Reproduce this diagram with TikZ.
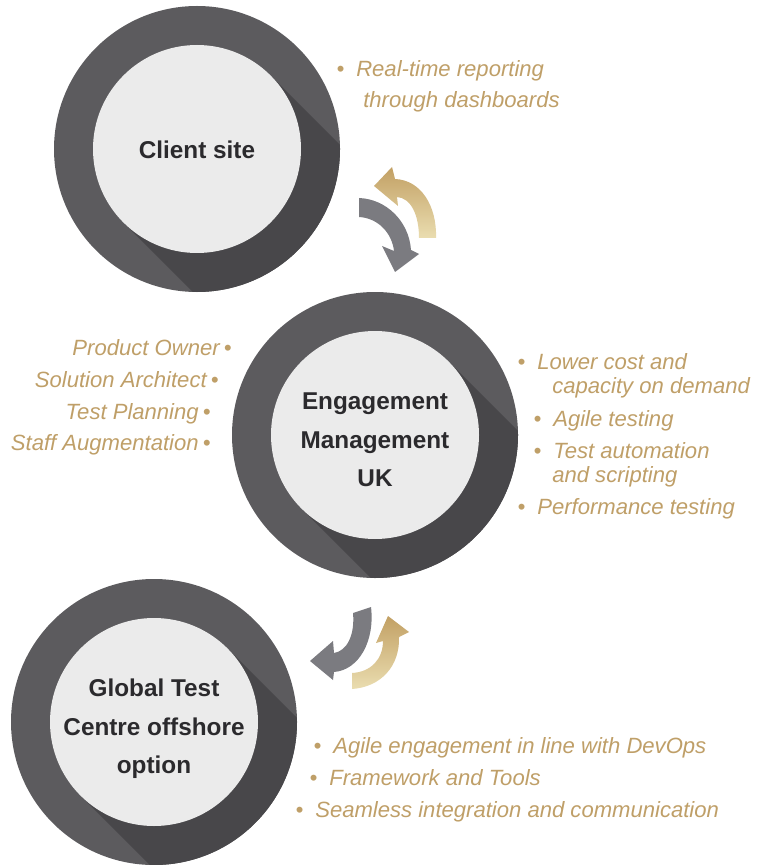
\documentclass[tikz,border=0pt]{standalone}
\usepackage{fontspec}
\setmainfont{Liberation Sans}
\usepackage{xcolor}
\usepackage{tikz}

\definecolor{ringgray}{HTML}{5C5B5E}
\definecolor{shadegray}{HTML}{48474A}
\definecolor{innergray}{HTML}{EBEBEB}
\definecolor{labeldark}{HTML}{2B2A2D}
\definecolor{goldtext}{HTML}{BF9F68}
\definecolor{arrowgray}{HTML}{7B7B80}
\definecolor{golddark}{HTML}{C2A064}
\definecolor{goldpale}{HTML}{EADDB0}

\newcommand{\lbul}{\llap{\textbullet\hspace{8.5pt}}}
\newcommand{\rbul}{\rlap{\hspace{3pt}\textbullet}}

\tikzset{
  site/.style={inner sep=0pt, align=center, text=labeldark,
    font=\bfseries\fontsize{17.3}{27.3}\selectfont},
  item/.style={anchor=base west, inner sep=0pt, text=goldtext,
    font=\itshape\fontsize{15.7}{20}\selectfont},
  itemleft/.style={item, anchor=base east}
}

\begin{document}
\begin{tikzpicture}[x=0.025cm, y=0.025cm]
			\useasboundingbox (0,0) rectangle (769,-865);
			% Rings with long shadow
			\foreach \cx/\cy in {197/149, 375/435, 154/722}{
				\fill[ringgray] (\cx,-\cy) circle (143);
				\begin{scope}
					\clip (\cx,-\cy) circle (143);
					\fill[shadegray, shift={(\cx,-\cy)}, rotate=-45] (0,-104) rectangle (320,104);
				\end{scope}
				\fill[innergray] (\cx,-\cy) circle (104);
			}
			% Nodes
			\node[site] (client) at (197,-150) {Client site};
			\node[site] (engage) at (375,-440) {Engagement\\Management\\UK};
			\node[site] (globaltc) at (154,-729) {Global Test\\Centre offshore\\option};
			% Top arrows
			\fill[arrowgray] (359,-198) .. controls (386,-199) and (409,-221) .. (411,-250)
				-- (419,-254) -- (395,-272) -- (382,-246) -- (394,-251)
				.. controls (392,-233) and (378,-218) .. (359,-217) -- cycle;
			\shade[top color=golddark, bottom color=goldpale] (419,-238) -- (436,-238)
				.. controls (437,-206) and (421,-180) .. (395,-179)
				-- (392,-167) -- (374,-186) -- (398,-206) -- (397,-197)
				.. controls (411,-198) and (419,-215) .. (419,-238) -- cycle;
			% Bottom arrows
			\fill[arrowgray] (353,-613) -- (371,-607) .. controls (375,-641) and (359,-670) .. (334,-672)
				-- (333,-680) -- (310,-661) -- (333,-641) -- (334,-653)
				.. controls (347,-651) and (355,-635) .. (353,-613) -- cycle;
			\shade[top color=golddark, bottom color=goldpale] (352,-673) -- (352,-689)
				.. controls (381,-687) and (400,-666) .. (399,-637)
				-- (409,-632) -- (388,-616) -- (376,-643) -- (383,-641)
				.. controls (383,-659) and (371,-672) .. (352,-673) -- cycle;
			% Client site items
			\node[item] (rt1) at (356,-77) {\lbul Real-time reporting};
			\node[item] (rt2) at (363,-108) {through dashboards};
			% Engagement items, left
			\node[itemleft] (po) at (220,-355) {Product Owner\rbul};
			\node[itemleft] (sa) at (207,-387) {Solution Architect\rbul};
			\node[itemleft] (tp) at (199,-419) {Test Planning\rbul};
			\node[itemleft] (staff) at (199,-450) {Staff Augmentation\rbul};
			% Engagement items, right
			\node[item] (lc1) at (537,-369) {\lbul Lower cost and};
			\node[item] (lc2) at (552,-393) {capacity on demand};
			\node[item] (agile) at (553,-426) {\lbul Agile testing};
			\node[item] (ta1) at (553,-458) {\lbul Test automation};
			\node[item] (ta2) at (552,-482) {and scripting};
			\node[item] (perf) at (537,-514) {\lbul Performance testing};
			% Offshore items
			\node[item] (devops) at (333,-753) {\lbul Agile engagement in line with DevOps};
			\node[item] (tools) at (329,-785) {\lbul Framework and Tools};
			\node[item] (seam) at (315,-817) {\lbul Seamless integration and communication};
		\end{tikzpicture}
\end{document}
